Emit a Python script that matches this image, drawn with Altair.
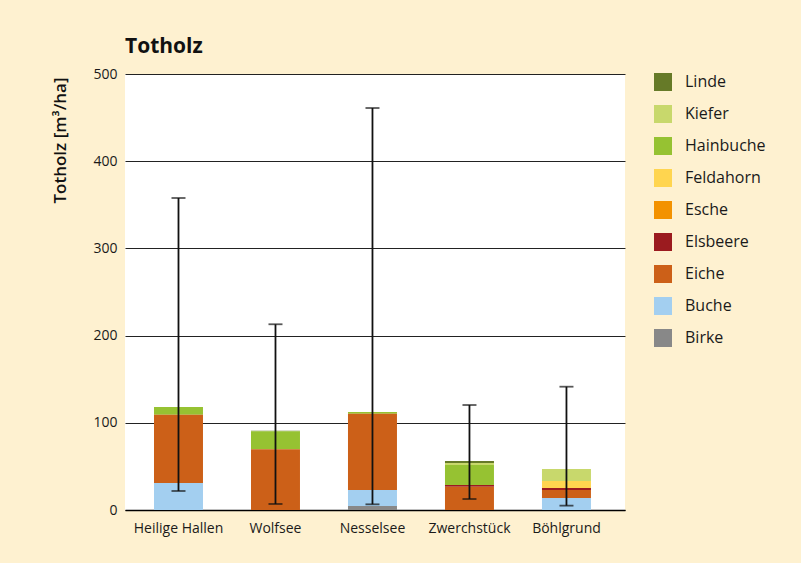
import altair as alt
import pandas as pd

sites = ["Heilige Hallen", "Wolfsee", "Nesselsee", "Zwerchstück", "Böhlgrund"]
species = ["Linde", "Kiefer", "Hainbuche", "Feldahorn", "Esche", "Elsbeere", "Eiche", "Buche", "Birke"]
colors = ["#667a28", "#c8d86c", "#96c232", "#ffd54f", "#f39200", "#9b1b1f", "#cc6018", "#a3cff0", "#888888"]

# volumes per species (m³/ha), one list per site in order of `species`
hh = [0, 0, 8.7, 0, 0, 0, 78.3, 31.0, 0]
wolfsee = [0.6, 0, 20.6, 0, 0, 0, 69.6, 0, 0]
nesselsee = [0, 0, 1.9, 0, 0, 0, 87.6, 18.3, 4.6]
zwerch = [2.3, 2.3, 22.9, 0, 0, 1.9, 26.8, 0, 0]
boehl = [0, 13.7, 0, 8.1, 0, 2.3, 9.1, 13.8, 0]

err_low = [21.8, 6.9, 6.5, 12.6, 5.0]
err_high = [357.8, 213.0, 461.0, 120.4, 141.4]

rows = []
for site, vals in zip(sites, [hh, wolfsee, nesselsee, zwerch, boehl]):
    for i, (sp, v) in enumerate(zip(species, vals)):
        if v > 0:
            rows.append({"site": site, "species": sp, "value": v, "order": len(species) - i})
df = pd.DataFrame(rows)
err = pd.DataFrame({"site": sites, "lo": err_low, "hi": err_high})

font = "Open Sans"

x = alt.X("site:N", sort=sites, title=None,
          scale=alt.Scale(paddingInner=0.495, paddingOuter=0.325, align=0.46),
          axis=alt.Axis(labelAngle=0, labelFontSize=14, labelColor="#1a1a1a", labelPadding=11,
                        ticks=False, domainColor="#000000", domainWidth=1.5, labelFont=font))

bars = alt.Chart(df).mark_bar().encode(
    x=x,
    y=alt.Y("value:Q", stack="zero", title="Totholz [m³/ha]",
            scale=alt.Scale(domain=[0, 500]),
            axis=alt.Axis(values=[0, 100, 200, 300, 400, 500], ticks=False, domain=False,
                          labelFontSize=14, labelColor="#1a1a1a", labelPadding=8, labelFont=font,
                          gridColor="#222222", gridWidth=1.2,
                          titleFont=font, titleFontSize=17, titleFontWeight=600,
                          titleColor="#111111", titleAngle=270, titleX=-65, titleY=66,
                          titleAlign="center", titleBaseline="middle")),
    color=alt.Color("species:N", scale=alt.Scale(domain=species, range=colors),
                    legend=alt.Legend(title=None, orient="none", legendX=529, legendY=-1,
                                      symbolType="square", symbolSize=324, symbolStrokeWidth=0,
                                      labelFontSize=16, labelFont=font, labelColor="#1a1a1a",
                                      rowPadding=14, labelOffset=13, symbolOpacity=1)),
    order=alt.Order("order:Q", sort="ascending"),
)

rule = alt.Chart(err).mark_rule(color="#111111", strokeWidth=1.8).encode(
    x=alt.X("site:N", sort=sites), y="lo:Q", y2="hi:Q")
cap_lo = alt.Chart(err).mark_tick(color="#111111", thickness=1.8, size=14, orient="horizontal").encode(
    x=alt.X("site:N", sort=sites), y="lo:Q")
cap_hi = alt.Chart(err).mark_tick(color="#111111", thickness=1.8, size=14, orient="horizontal").encode(
    x=alt.X("site:N", sort=sites), y="hi:Q")

chart = alt.layer(bars, rule, cap_lo, cap_hi).properties(
    width=500, height=436,
    title=alt.TitleParams("Totholz", anchor="start", font=font, fontSize=21, fontWeight="bold",
                          color="#111111", offset=10, frame="group"),
    autosize=alt.AutoSizeParams(type="none"),
    padding={"left": 125, "top": 74, "right": 176, "bottom": 53},
).configure(background="#fef1d0").configure_view(fill="white", stroke=None)

chart.save("out.html", embed_options={"renderer": "svg", "actions": False})
